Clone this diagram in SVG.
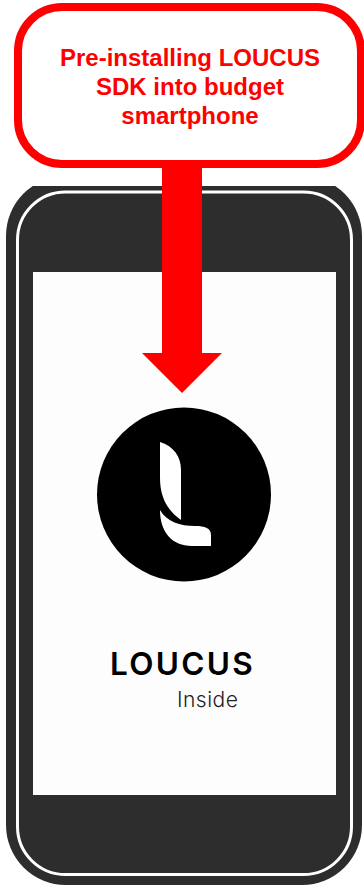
<svg xmlns="http://www.w3.org/2000/svg" width="364" height="886" viewBox="0 0 364 886">
<style>
.c{font-family:"Liberation Sans",Arial,sans-serif;font-weight:700;font-size:24px;fill:#f00;text-anchor:middle}
.l{font-family:Inter,"Liberation Sans",sans-serif}
</style>
<defs><clipPath id="top"><rect x="0" y="186" width="364" height="700"/></clipPath></defs>
<rect width="364" height="886" fill="#fff"/>
<g id="phone">
<rect x="6" y="176" width="356" height="709" rx="60" fill="#2d2d2d" clip-path="url(#top)"/>
<rect x="17.500" y="192" width="334" height="682.500" rx="48" fill="none" stroke="#fff" stroke-width="3"/>
<rect x="33" y="272" width="303" height="523" fill="#fdfdfd"/>
</g>
<g id="logo">
<circle cx="184" cy="494.500" r="87" fill="#000"/>
<path d="M160 442C173 446 181 456 181 470V520C168 511 160 498 160 478Z" fill="#fff"/>
<path d="M160 510C167 522 180 526 195 526C205 526 211 528 211 535V546H192C172 546 160 532 160 510Z" fill="#fff"/>
<text class="l" x="110" y="675" font-size="31.500" font-weight="600" letter-spacing="2.300" fill="#000">LOUCUS</text>
<text class="l" x="177" y="707" font-size="21" font-weight="300" letter-spacing="0.500" fill="#222">Inside</text>
</g>
<g id="connectors">
<path d="M162 160H202V353H222L182 393L142 353H162Z" fill="#f00"/>
</g>
<g id="callout">
<rect x="18" y="7" width="343" height="157" rx="44" fill="#fff" stroke="#f00" stroke-width="8"/>
<text class="c" x="190" y="66">Pre-installing LOUCUS</text>
<text class="c" x="190" y="95">SDK into budget</text>
<text class="c" x="190" y="124">smartphone</text>
</g>
</svg>
